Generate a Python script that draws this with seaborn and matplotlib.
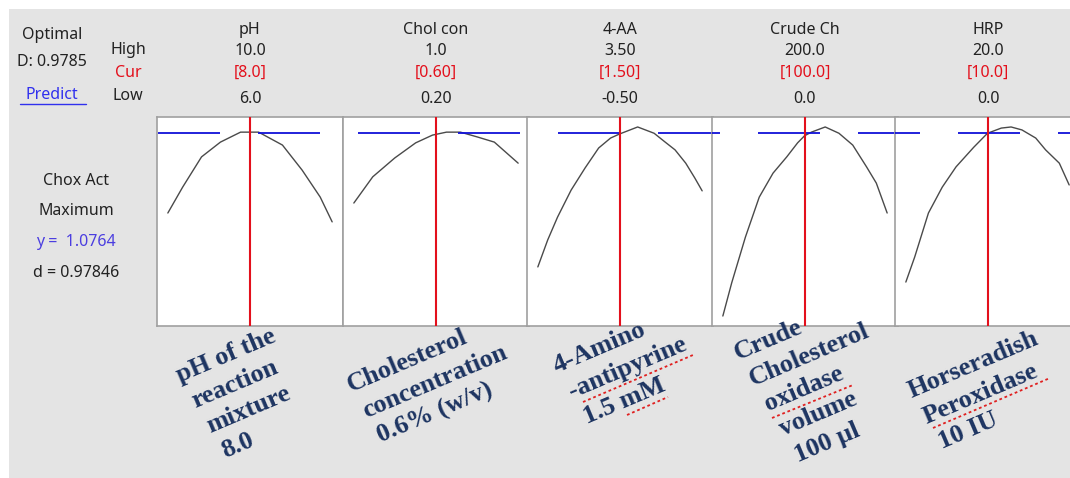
import matplotlib
matplotlib.use("Agg")
import pandas as pd
import matplotlib.pyplot as plt
import seaborn as sns
from matplotlib.transforms import blended_transform_factory
from matplotlib.patches import Rectangle
from matplotlib.lines import Line2D

# Factor settings (Minitab response optimizer)
short_names = ["pH", "Chol con", "4-AA", "Crude Ch", "HRP"]
high = [10.0, 1.0, 3.50, 200.0, 20.0]
cur = [8.0, 0.60, 1.50, 100.0, 10.0]
low = [6.0, 0.20, -0.50, 0.0, 0.0]
high_txt = ["10.0", "1.0", "3.50", "200.0", "20.0"]
cur_txt = ["[8.0]", "[0.60]", "[1.50]", "[100.0]", "[10.0]"]
low_txt = ["6.0", "0.20", "-0.50", "0.0", "0.0"]
long_names = [
    ["pH of the", "reaction", "mixture", "8.0"],
    ["Cholesterol", "concentration", "0.6% (w/v)"],
    ["4-Amino", "-antipyrine", "1.5 mM"],
    ["Crude", "Cholesterol", "oxidase", "volume", "100 µl"],
    ["Horseradish", "Peroxidase", "10 IU"],
]

# Predicted response traces
ph_x = [6.0, 6.36, 6.82, 7.28, 7.77, 8.21, 8.79, 9.27, 9.71, 10.0]
ph_y = [0.860, 0.930, 1.012, 1.052, 1.079, 1.079, 1.044, 0.976, 0.903, 0.836]
chol_x = [0.2, 0.292, 0.399, 0.501, 0.583, 0.651, 0.719, 0.801, 0.884, 1.0]
chol_y = [0.887, 0.958, 1.009, 1.050, 1.071, 1.079, 1.079, 1.066, 1.052, 0.995]
aa_x = [-0.5, -0.26, -0.02, 0.31, 0.65, 0.98, 1.27, 1.49, 1.93, 2.33, 2.60, 2.84, 3.10, 3.32, 3.50]
aa_y = [0.714, 0.787, 0.849, 0.922, 0.982, 1.036, 1.063, 1.074, 1.093, 1.076, 1.052, 1.031, 0.995, 0.955, 0.920]
crude_x = [0, 10.8, 27.5, 44.3, 61.1, 77.8, 91.0, 99.4, 107.8, 124.6, 141.3, 158.1, 174.9, 186.8, 200]
crude_y = [0.581, 0.671, 0.795, 0.903, 0.968, 1.012, 1.050, 1.069, 1.079, 1.093, 1.076, 1.044, 0.985, 0.941, 0.860]
hrp_x = [0, 1.08, 2.75, 4.43, 6.11, 8.26, 9.94, 11.62, 12.81, 14.13, 15.81, 17.01, 18.68, 19.88]
hrp_y = [0.673, 0.741, 0.860, 0.930, 0.985, 1.038, 1.076, 1.090, 1.093, 1.085, 1.063, 1.031, 0.995, 0.936]
traces_x = [ph_x, chol_x, aa_x, crude_x, hrp_x]
traces_y = [ph_y, chol_y, aa_y, crude_y, hrp_y]

y_current = 1.0764
d_value = 0.97846
D_composite = 0.9785
y_range = (0.554, 1.12)

sns.set_style("white")
plt.rcParams["font.family"] = ["Noto Sans", "DejaVu Sans"]
plt.rcParams["lines.scale_dashes"] = False

W, H = 1070, 478
fig = plt.figure(figsize=(W / 100, H / 100), dpi=100, facecolor="white")
fig.add_artist(Rectangle((9 / W, 0), 1, 1 - 9 / H, transform=fig.transFigure,
                         facecolor="#e4e4e4", edgecolor="none", zorder=-10))

def fx(px):
    return px / W

def fy(py):
    return 1 - py / H

text_col = "#222222"
red = "#e3101c"
blue = "#1010d8"
fs = 11.5

# left-hand info
fig.text(fx(52), fy(35), "Optimal", ha="center", va="center", fontsize=fs, color=text_col)
fig.text(fx(52), fy(62), "D: %.4f" % D_composite, ha="center", va="center", fontsize=fs, color=text_col)
fig.text(fx(52), fy(95), "Predict", ha="center", va="center", fontsize=fs, color="#3030ee")
fig.add_artist(Line2D([fx(20), fx(86)], [fy(104), fy(104)], transform=fig.transFigure,
                      color="#3030ee", lw=1))
fig.text(fx(128), fy(50), "High", ha="center", va="center", fontsize=fs, color=text_col)
fig.text(fx(128), fy(73), "Cur", ha="center", va="center", fontsize=fs, color=red)
fig.text(fx(128), fy(96), "Low", ha="center", va="center", fontsize=fs, color=text_col)
fig.text(fx(76), fy(181), "Chox Act", ha="center", va="center", fontsize=fs, color=text_col)
fig.text(fx(76), fy(211), "Maximum", ha="center", va="center", fontsize=fs, color=text_col)
fig.text(fx(76), fy(242), "y =  %.4f" % y_current, ha="center", va="center", fontsize=fs, color="#4b3ee0")
fig.text(fx(76), fy(273), "d = %.5f" % d_value, ha="center", va="center", fontsize=fs, color=text_col)

# panels
lefts_px = [157, 343, 527, 712, 895]
panel_w, top_px, bot_px = 186, 117, 326
dash_on, dash_off = 62 * 0.72, 38 * 0.72

for i in range(5):
    ax = fig.add_axes([fx(lefts_px[i]), fy(bot_px), panel_w / W, (bot_px - top_px) / H])
    ax.set_facecolor("white")
    pad = (high[i] - low[i]) * 0.066
    ax.set_xlim(low[i] - pad, high[i] + pad)
    ax.set_ylim(*y_range)
    df = pd.DataFrame({"x": traces_x[i], "y": traces_y[i]})
    sns.lineplot(data=df, x="x", y="y", ax=ax, color="#4a4a4a", lw=1.0, zorder=2)
    phase = ((lefts_px[i] - 158) % 100) * 0.72
    ax.axhline(y_current, color=blue, lw=1.3, linestyle=(phase, (dash_on, dash_off)), zorder=3)
    ax.axvline(cur[i], color=red, lw=1.5, zorder=4)
    ax.set_xticks([])
    ax.set_yticks([])
    ax.set_xlabel("")
    ax.set_ylabel("")
    for s in ax.spines.values():
        s.set_color("#a0a0a0")
        s.set_linewidth(1.2)

    tr = blended_transform_factory(ax.transData, fig.transFigure)
    mid = (low[i] + high[i]) / 2
    ax.text(mid, fy(30), short_names[i], transform=tr, ha="center", va="center", fontsize=fs, color=text_col)
    ax.text(mid, fy(51), high_txt[i], transform=tr, ha="center", va="center", fontsize=fs, color=text_col)
    ax.text(mid, fy(73), cur_txt[i], transform=tr, ha="center", va="center", fontsize=fs, color=red)
    ax.text(mid, fy(99), low_txt[i], transform=tr, ha="center", va="center", fontsize=fs, color=text_col)

# rotated factor descriptions (left aligned, each line stepping down-right)
label_start = [(180, 382), (351, 392), (557, 373), (738, 360), (912, 398)]
step_x, step_y = 15, 25.5
for lines, (px, py) in zip(long_names, label_start):
    for k, line in enumerate(lines):
        fig.text(fx(px + step_x * k), fy(py + step_y * k), line, ha="left", va="baseline",
                 rotation=23, rotation_mode="anchor", fontsize=19, fontweight="bold",
                 family="Liberation Serif", color="#1d3461")

# red spell-check squiggles seen under some words
squiggles = [((583, 402), (693, 355)), ((627, 415), (668, 397)),
             ((772, 418), (853, 385)), ((933, 428), (1050, 378))]
for (x0, y0), (x1, y1) in squiggles:
    fig.add_artist(Line2D([fx(x0), fx(x1)], [fy(y0), fy(y1)], transform=fig.transFigure,
                          color="#e02020", lw=1.3, linestyle=(0, (2, 2))))

fig.savefig("out.png", dpi=100, facecolor=fig.get_facecolor())
